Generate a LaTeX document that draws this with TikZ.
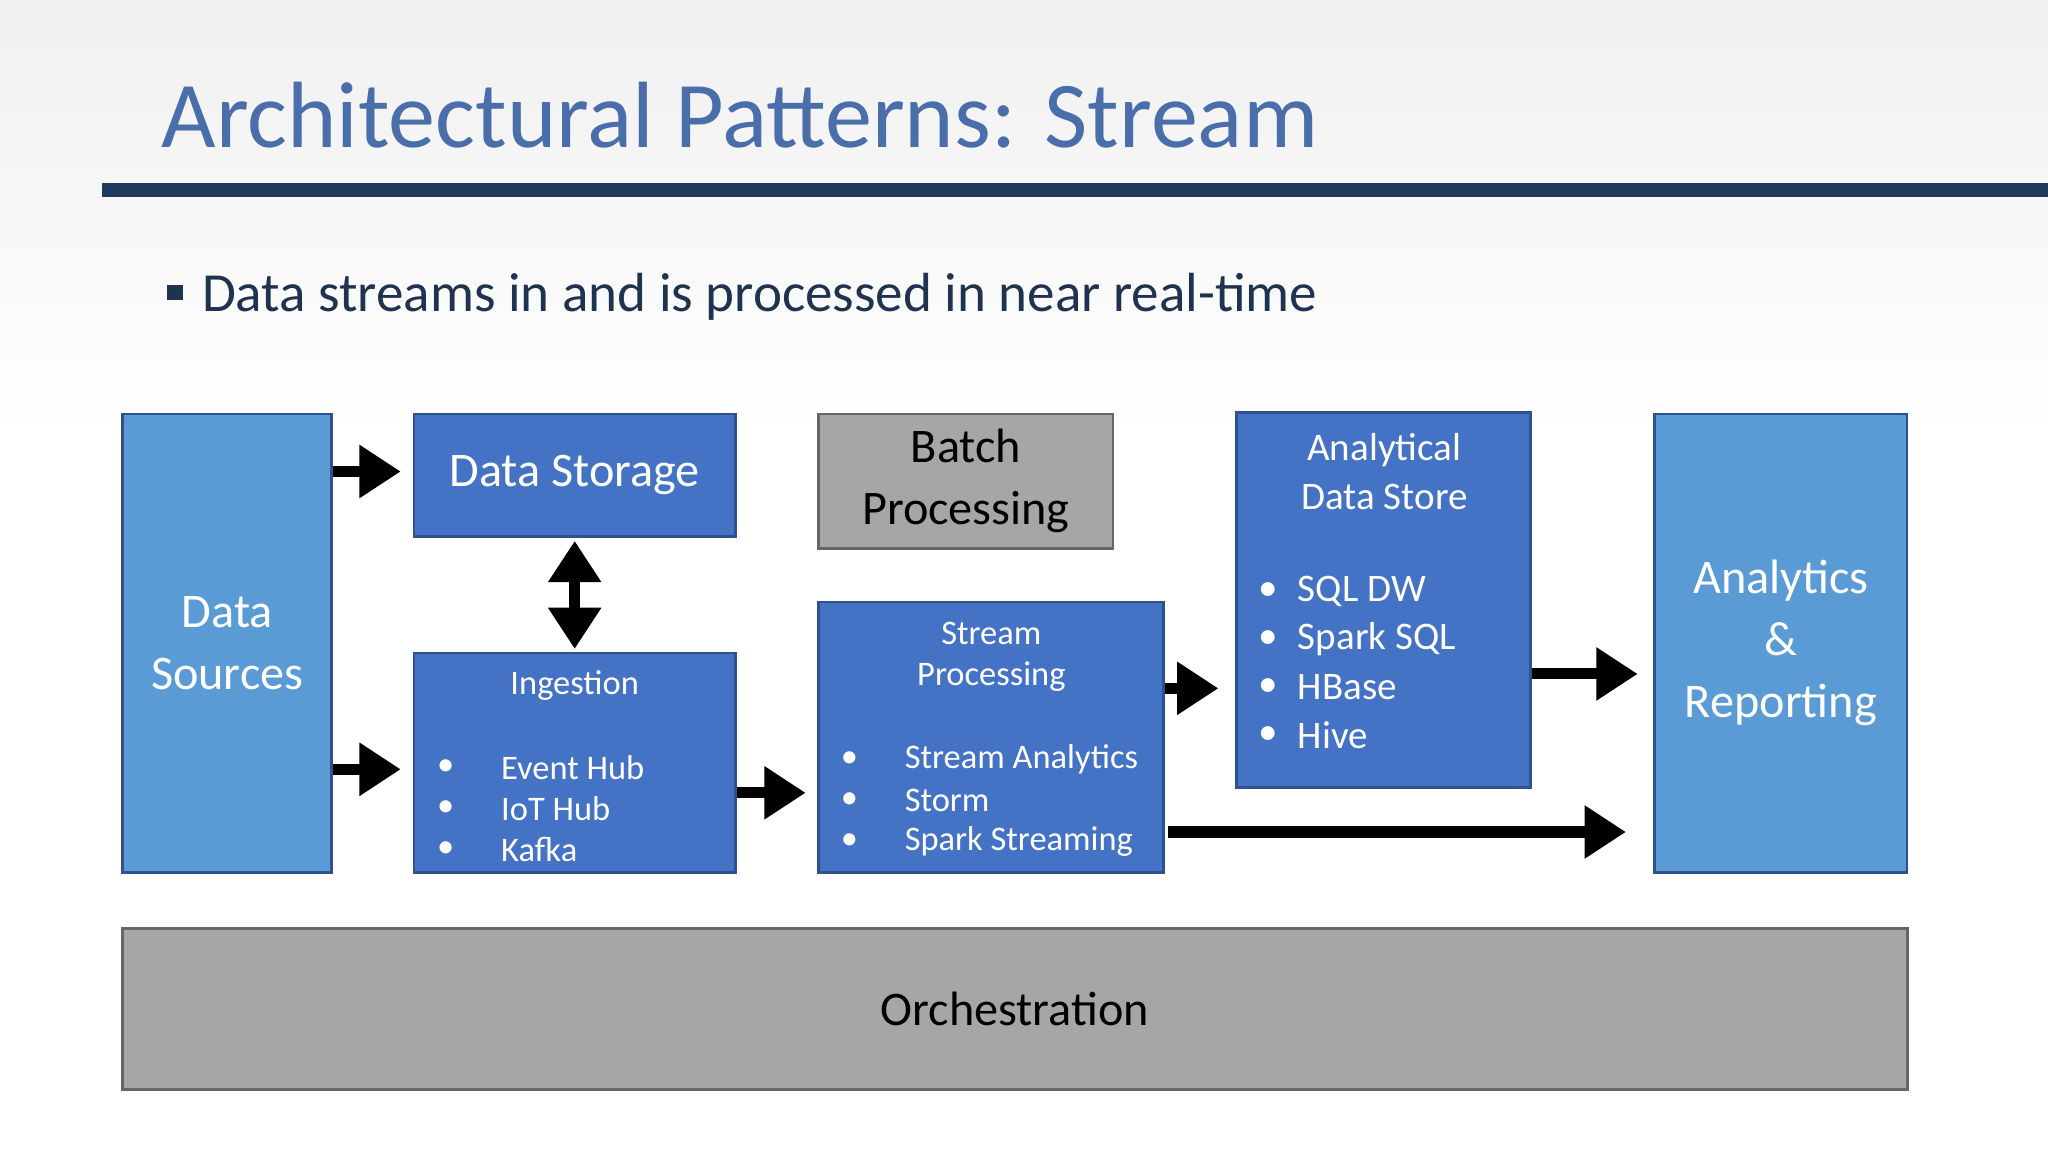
\documentclass[tikz,border=0pt]{standalone}
\usepackage{fontspec}
\setmainfont{Carlito}
\usetikzlibrary{arrows.meta}
\definecolor{titleblue}{HTML}{4A6EAA}
\definecolor{navy}{HTML}{1F3A5F}
\definecolor{lblue}{HTML}{5B9BD5}
\definecolor{dblue}{HTML}{4472C4}
\definecolor{edgeblue}{HTML}{2F528F}
\definecolor{gbox}{HTML}{A6A5A8}
\definecolor{txt}{HTML}{1F3350}
\tikzset{
  box/.style={draw=edgeblue, line width=0.6pt, fill=dblue, text=white, align=center, inner sep=0pt},
  lbox/.style={box, fill=lblue},
  gray box/.style={draw=gray!80!black, line width=0.6pt, fill=gbox, text=black, align=center, inner sep=0pt},
  arr/.style={line width=2.4pt, -{Triangle[length=9pt,width=11pt]}},
  darr/.style={line width=2.4pt, {Triangle[length=9pt,width=11pt]}-{Triangle[length=9pt,width=11pt]}},
  item/.style={anchor=west, text=white, font=\fontsize{7.5}{9}\selectfont, inner sep=0pt}
}
\begin{document}
\begin{tikzpicture}[x=0.01cm, y=-0.01cm]
  \useasboundingbox (0,0) rectangle (1568,882);
  \shade[top color=gray!12, bottom color=white] (0,0) rectangle (1568,330);
  \fill[white] (0,330) rectangle (1568,882);
  % title
  \node[anchor=west, text=titleblue, font=\fontsize{20.5}{24}\selectfont, inner sep=0pt] (title) at (123,88) {Architectural Patterns: Stream};
  \fill[navy] (78,140) rectangle (1568,151);
  \fill[txt] (128,218) rectangle (140,230);
  \node[anchor=west, text=txt, font=\fontsize{12}{14}\selectfont, inner sep=0pt] (bul) at (154,227) {Data streams in and is processed in near real-time};
  % boxes
  \node[lbox, minimum width=1.60cm, minimum height=3.51cm, font=\fontsize{10.5}{13.5}\selectfont] (ds) at (174,492.5) {Data\\Sources};
  \node[box, minimum width=2.46cm, minimum height=0.94cm, font=\fontsize{10.5}{13}\selectfont] (st) at (440,364) {Data Storage};
  \node[gray box, minimum width=2.25cm, minimum height=1.03cm, font=\fontsize{10.5}{13.5}\selectfont] (bp) at (739.5,368.5) {Batch\\Processing};
  \node[box, minimum width=2.25cm, minimum height=2.87cm] (ad) at (1059.5,459.5) {};
  \node[lbox, minimum width=1.93cm, minimum height=3.51cm, font=\fontsize{10.5}{13.5}\selectfont] (ar) at (1363.5,492.5) {Analytics\\\&\\Reporting};
  \node[box, minimum width=2.46cm, minimum height=1.68cm] (ing) at (440,584) {};
  \node[box, minimum width=2.64cm, minimum height=2.07cm] (sp) at (759,564.5) {};
  \node[gray box, minimum width=13.66cm, minimum height=1.23cm, font=\fontsize{10.5}{13}\selectfont] (orch) at (777,772.5) {Orchestration};
  % box contents
  \node[text=white, font=\fontsize{8.5}{10.5}\selectfont, align=center] (adt) at (1060,361) {Analytical\\Data Store};
  \foreach \t [count=\i] in {SQL DW, Spark SQL, HBase, Hive} {
    \node[item, font=\fontsize{8.5}{10}\selectfont] (adb\i) at (963,416+36.7*\i) {\textbullet};
    \node[item, font=\fontsize{8.5}{10}\selectfont] (adi\i) at (993,416+36.7*\i) {\t};
  }
  \node[text=white, font=\fontsize{7.5}{9}\selectfont] (ingt) at (440,525) {Ingestion};
  \foreach \t [count=\i] in {Event Hub, IoT Hub, Kafka} {
    \node[item] (ingb\i) at (334,556+31.5*\i) {\textbullet};
    \node[item] (ingi\i) at (383,556+31.5*\i) {\t};
  }
  \node[text=white, font=\fontsize{7.5}{9}\selectfont, align=center] (spt) at (759,503) {Stream\\Processing};
  \foreach \t [count=\i] in {Stream Analytics, Storm, Spark Streaming} {
    \node[item] (spb\i) at (643,550+31.5*\i) {\textbullet};
    \node[item] (spi\i) at (692,550+31.5*\i) {\t};
  }
  % connectors
  \draw[arr] (ds.east |- 0,361) -- ([xshift=-0.09cm]st.west |- 0,361);
  \draw[arr] (ds.east |- 0,589) -- ([xshift=-0.09cm]ing.west |- 0,589);
  \draw[darr] ([yshift=-0.02cm]st.south) -- ([yshift=0.02cm]ing.north);
  \draw[arr] (ing.east |- 0,607) -- ([xshift=-0.09cm]sp.west |- 0,607);
  \draw[arr] (sp.east |- 0,527) -- ([xshift=-0.13cm]ad.west |- 0,527);
  \draw[arr] (ad.east |- 0,516) -- ([xshift=-0.12cm]ar.west |- 0,516);
  \draw[arr] ([xshift=0.02cm]sp.east |- 0,637) -- ([xshift=-0.21cm]ar.west |- 0,637);
\end{tikzpicture}
\end{document}
